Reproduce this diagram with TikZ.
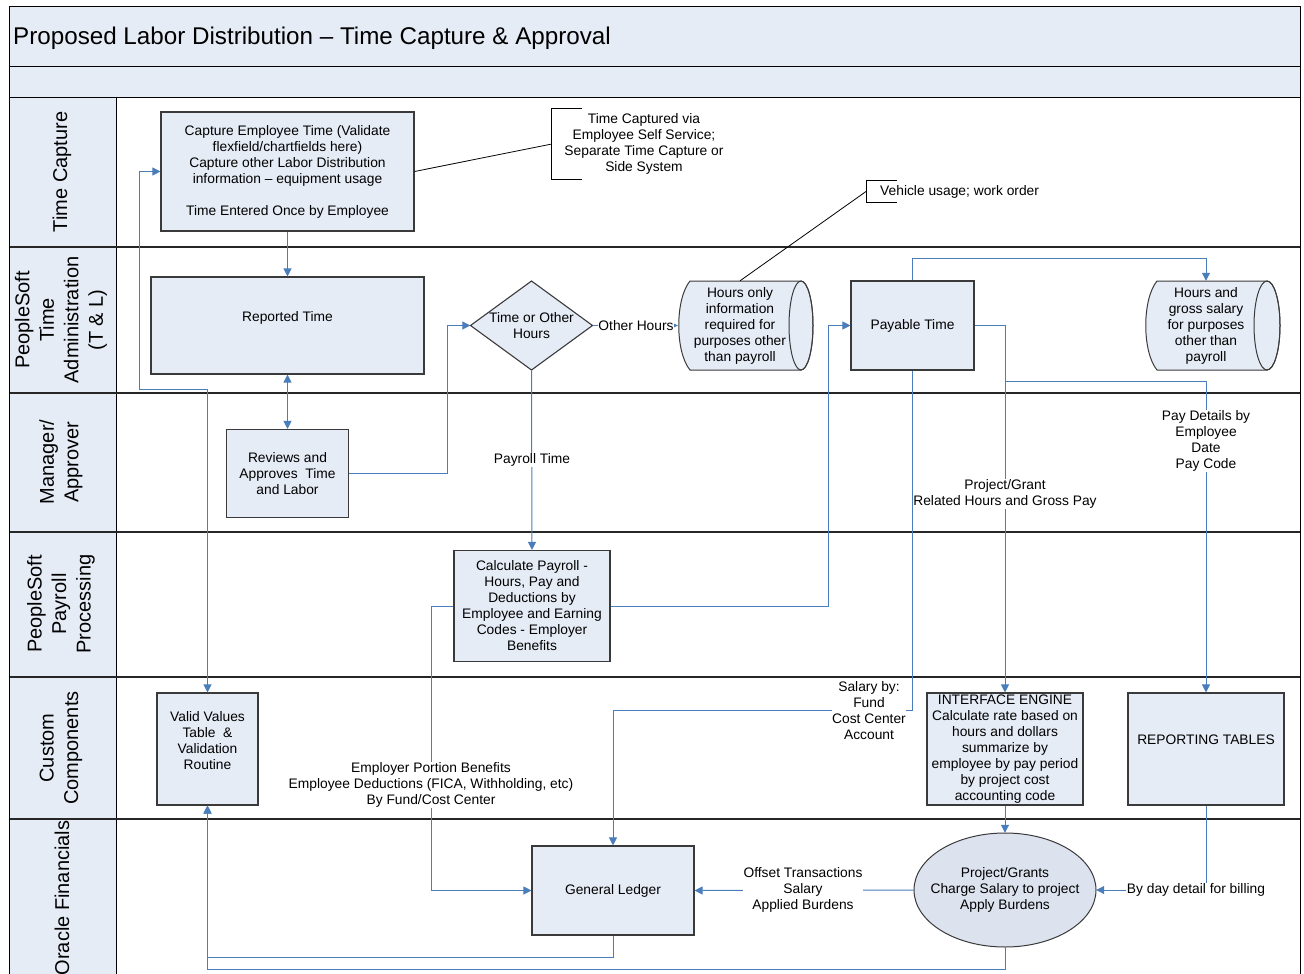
\documentclass[tikz,border=0pt]{standalone}
\usepackage{fontspec}
\setmainfont{Liberation Sans}
\usepackage{xcolor}
\usetikzlibrary{arrows.meta}

\definecolor{boxfill}{HTML}{E6ECF6}
\definecolor{lanefill}{HTML}{E6ECF6}
\definecolor{ovalfill}{HTML}{DCE3EF}
\definecolor{flowblue}{HTML}{4A7EBB}
\definecolor{boxline}{HTML}{3A3A3A}

\newcommand{\smalltext}{\fontsize{13.8}{16}\selectfont}
\newcommand{\lanetext}{\fontsize{20}{24.5}\selectfont}
\newcommand{\titletext}{\fontsize{24.2}{28}\selectfont}

\begin{document}
\begin{tikzpicture}[x=1pt, y=-1pt,
  >={Triangle[length=8pt,width=8pt]},
  box/.style={draw=boxline, fill=boxfill, line width=1.1pt, inner sep=0pt, align=center, font=\smalltext},
  tube/.style={draw=boxline, fill=boxfill, line width=1pt},
  txt/.style={inner sep=0pt, align=center, font=\smalltext},
  lane/.style={rotate=90, align=center, font=\lanetext},
  flow/.style={draw=flowblue, line width=1pt, ->},
  twoway/.style={draw=flowblue, line width=1pt, <->},
  tag/.style={fill=white, inner sep=0.5pt, align=center, font=\smalltext},
  callout/.style={draw=black, line width=0.8pt}]

\useasboundingbox (0,0) rectangle (1304,974);

\fill[lanefill] (9,7) rectangle (1300,97);
\fill[lanefill] (9,97) rectangle (116,985);
\draw[line width=1pt] (9,67) -- (1300,67);
\draw[line width=1pt] (9,97) -- (1300,97);
\draw[line width=1pt] (116,97) -- (116,985);
\foreach \y in {247,393,532,677,819}
  \draw[line width=1.8pt, draw=black!85] (9,\y) -- (1300,\y);
\draw[line width=1pt] (9,985) -- (9,7) -- (1300,7) -- (1300,985);

\node[anchor=west, inner sep=0pt, font=\titletext] (title) at (13,38) {Proposed Labor Distribution – Time Capture \& Approval};

\node[lane] (lncapture) at (62,172) {Time Capture};
\node[lane] (lnadmin) at (61,320) {PeopleSoft\\Time\\Administration\\(T \& L)};
\node[lane] (lnmanager) at (61,462) {Manager/\\Approver};
\node[lane] (lnpayroll) at (61,604) {PeopleSoft\\Payroll\\Processing};
\node[lane] (lncustom) at (61,748) {Custom\\Components};
\node[lane] (lnoracle) at (62,898) {Oracle Financials};

\node[box, minimum width=253pt, minimum height=119pt] (capture) at (287.5,171.5) {Capture Employee Time (Validate\\flexfield/chartfields here)\\Capture other Labor Distribution\\information – equipment usage\\[16pt]Time Entered Once by Employee};
\node[box, minimum width=273pt, minimum height=97pt, text depth=19pt] (reported) at (287.5,325.5) {Reported Time};
\node[box, minimum width=122pt, minimum height=88pt] (review) at (287.5,473.5) {Reviews and\\Approves~ Time\\and Labor};

\draw[box] (470.5,325.5) -- (531.5,281) -- (592.5,325.5) -- (531.5,370) -- cycle;
\node[txt, minimum width=122pt, minimum height=89pt] (decide) at (531.5,325.5) {Time or Other\\Hours};

\draw[tube] (690,281) -- (801,281) arc[start angle=-90, end angle=90, x radius=12, y radius=44.5] -- (690,370) .. controls (675,352) and (675,299) .. cycle;
\draw[tube, fill=none] (801,325.5) ellipse [x radius=12, y radius=44.5];
\node[txt, minimum width=124pt, minimum height=89pt] (hrsonly) at (740,325.5) {Hours only\\information\\required for\\purposes other\\than payroll};

\node[box, minimum width=123pt, minimum height=89pt] (payable) at (912.5,325.5) {Payable Time};

\draw[tube] (1157,281) -- (1267,281) arc[start angle=-90, end angle=90, x radius=13, y radius=44.5] -- (1157,370) .. controls (1142,352) and (1142,299) .. cycle;
\draw[tube, fill=none] (1267,325.5) ellipse [x radius=13, y radius=44.5];
\node[txt, minimum width=135pt, minimum height=89pt] (hrsgross) at (1206,325.5) {Hours and\\gross salary\\for purposes\\other than\\payroll};

\node[box, minimum width=156pt, minimum height=111pt] (payroll) at (532,606) {Calculate Payroll -\\Hours, Pay and\\Deductions by\\Employee and Earning\\Codes - Employer\\Benefits};
\node[box, minimum width=101pt, minimum height=112pt, text depth=18pt] (valid) at (207.5,749) {Valid Values\\Table~ \&\\Validation\\Routine};
\node[box, minimum width=156pt, minimum height=112pt] (engine) at (1005,749) {INTERFACE ENGINE\\Calculate rate based on\\hours and dollars\\summarize by\\employee by pay period\\by project cost\\accounting code};
\node[box, minimum width=156pt, minimum height=112pt, text depth=18pt] (reporting) at (1206,749) {REPORTING TABLES};
\node[box, minimum width=162pt, minimum height=89pt] (ledger) at (613,890.5) {General Ledger};

\draw[tube, fill=ovalfill] (1005,890) ellipse [x radius=91, y radius=57];
\node[txt, minimum width=182pt, minimum height=114pt] (grants) at (1005,890) {Project/Grants\\Charge Salary to project\\Apply Burdens};

\node[txt, minimum width=184pt, minimum height=70pt] (selfserv) at (644,144) {Time Captured via\\Employee Self Service;\\Separate Time Capture or\\Side System};
\draw[callout] ([xshift=30pt]selfserv.north west) -- (selfserv.north west) -- (selfserv.south west) -- ([xshift=30pt]selfserv.south west);
\node[txt, anchor=west, minimum height=21pt, inner xsep=14pt] (vehicle) at (866,191.5) {Vehicle usage; work order};
\draw[callout] ([xshift=31pt]vehicle.north west) -- (vehicle.north west) -- (vehicle.south west) -- ([xshift=31pt]vehicle.south west);
\draw[callout] (capture.east) -- (selfserv.west);
\draw[callout] (vehicle.west) -- (hrsonly.north);

\draw[flow] (capture.south) -- (reported.north);
\draw[twoway] (reported.south) -- (review.north);
\draw[twoway] (capture.west) -| (139,389) -| (valid.north);
\draw[flow] (review.east) -- (447,473.5) |- (decide.west);
\draw[flow] (decide.east) -- (hrsonly.west);
\draw[flow] (decide.south) -- (payroll.north);
\draw[flow] (payroll.east) -- (828,606) |- (payable.west);
\draw[flow] (payable.north) -- (912.5,258) -| (hrsgross.north);
\draw[flow] (payable.east) -| (engine.north);
\coordinate (split) at (1005,381.5);
\draw[flow] (split) -| (reporting.north);
\draw[flow] (payable.south) -- (912.5,710) -| (ledger.north);
\draw[flow] (payroll.west) -- (431,606) |- (ledger.west);
\draw[flow] (engine.south) -- (grants.north);
\draw[flow] (reporting.south) |- (grants.east);
\draw[flow] (grants.west) -- (ledger.east);
\draw[flow] (ledger.south) -- ++(0,22) -| (valid.south);
\draw[flow] (grants.south) -- ++(0,22) -| (valid.south);

\node[tag] (othertag) at (636,325.5) {Other Hours};
\node[tag] (paytag) at (532,460) {Payroll Time};
\node[tag] (granttag) at (1005,494) {Project/Grant\\Related Hours and Gross Pay};
\node[tag] (detailtag) at (1206,441) {Pay Details by\\Employee\\Date\\Pay Code};
\node[tag] (salarytag) at (869,711) {Salary by:\\Fund\\Cost Center\\Account};
\node[tag] (benefittag) at (431,785) {Employer Portion Benefits\\Employee Deductions (FICA, Withholding, etc)\\By Fund/Cost Center};
\node[tag] (offsettag) at (803,890) {Offset Transactions\\Salary\\Applied Burdens};
\node[tag] (billtag) at (1196,890) {By day detail for billing};
\end{tikzpicture}
\end{document}
